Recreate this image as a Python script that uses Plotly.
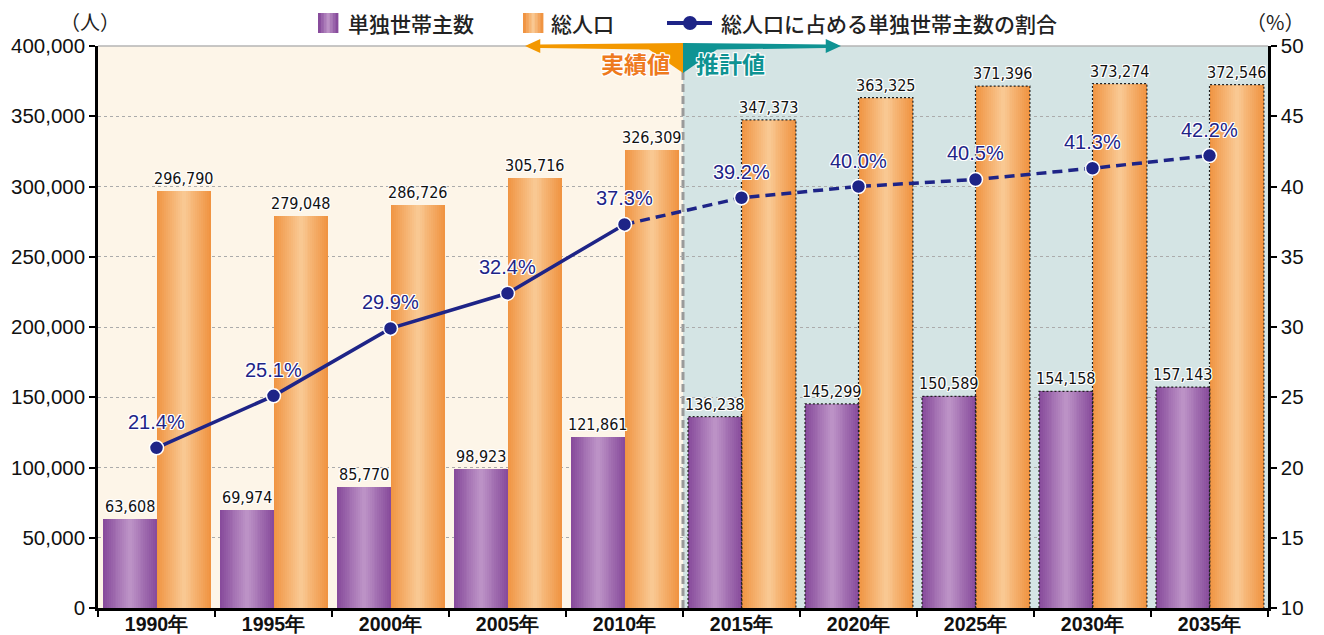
import plotly.graph_objects as go

# ---- data -----------------------------------------------------------------
years = ["1990年", "1995年", "2000年", "2005年", "2010年",
         "2015年", "2020年", "2025年", "2030年", "2035年"]
single_households = [63608, 69974, 85770, 98923, 121861,
                     136238, 145299, 150589, 154158, 157143]
total_population = [296790, 279048, 286726, 305716, 326309,
                    347373, 363325, 371396, 373274, 372546]
single_share = [21.4, 25.1, 29.9, 32.4, 37.3, 39.2, 40.0, 40.5, 41.3, 42.2]
n_actual = 5  # first five points are census results, the rest are projections

# ---- styling --------------------------------------------------------------
W, H = 1324, 635
M_L, M_R, M_T, M_B = 98, 56, 46, 27
PW, PH = W - M_L - M_R, H - M_T - M_B

PURPLE_EDGE = (136, 76, 156)
PURPLE_MID = (188, 146, 198)
ORANGE_EDGE = (240, 148, 66)
ORANGE_MID = (249, 200, 146)
NAVY = "#1E2487"
ORANGE_TXT = "#EE7A1E"
ORANGE_ARROW = "#F39800"
TEAL = "#0F9393"
BG_ACTUAL = "#FDF5E8"
BG_PROJ = "#D4E4E4"
NUM_FONT = "Liberation Sans, Arial, Helvetica, sans-serif"
NARROW_FONT = "Liberation Sans Narrow, DejaVu Sans Condensed, Arial Narrow, sans-serif"
JP_FONT = "Noto Sans CJK JP, sans-serif"
HALO = ("1px 1px 0 #fff, -1px -1px 0 #fff, 1px -1px 0 #fff, -1px 1px 0 #fff, "
        "0 1px 0 #fff, 0 -1px 0 #fff, 1px 0 0 #fff, -1px 0 0 #fff")

PURPLE_OFF, PURPLE_W = -0.457, 0.46
ORANGE_OFF, ORANGE_W = 0.0, 0.465

x = list(range(len(years)))
boundary = n_actual - 0.5


def px_x(p):
    return (p - M_L) / PW


def px_y(p):
    return (H - M_B - p) / PH


def rgb(c):
    return "rgb(%d,%d,%d)" % c


def mix(a, b, t):
    return tuple(round(u + (v - u) * t) for u, v in zip(a, b))


fig = go.Figure()


def gradient_bars(values, offset, width, edge, mid, steps=14):
    """Cylinder-like shading: nested bars getting narrower and lighter."""
    for k in range(steps):
        t = k / (steps - 1)
        w = width * (1 - k / steps)
        off = offset + (width - w) / 2
        fig.add_trace(go.Bar(
            x=x, y=values, offset=off, width=w, yaxis="y",
            marker=dict(color=rgb(mix(edge, mid, t)), line=dict(width=0)),
            showlegend=False, hoverinfo="skip"))


gradient_bars(single_households, PURPLE_OFF, PURPLE_W, PURPLE_EDGE, PURPLE_MID)
gradient_bars(total_population, ORANGE_OFF, ORANGE_W, ORANGE_EDGE, ORANGE_MID)

# dotted outlines around projected bars
ox, oy = [], []
for i in range(n_actual, len(years)):
    for off, w, v in ((PURPLE_OFF, PURPLE_W, single_households[i]),
                      (ORANGE_OFF, ORANGE_W, total_population[i])):
        l, r = i + off, i + off + w
        ox += [l, l, r, r, None]
        oy += [0, v, v, 0, None]
fig.add_trace(go.Scatter(x=ox, y=oy, mode="lines", yaxis="y",
                         line=dict(color="#222", width=1.2, dash="2px,2px"),
                         showlegend=False, hoverinfo="skip"))

# share line: solid for results, dashed for projections
fig.add_trace(go.Scatter(x=x[:n_actual], y=single_share[:n_actual], yaxis="y2",
                         mode="lines", line=dict(color=NAVY, width=3.5),
                         showlegend=False, hoverinfo="skip"))
fig.add_trace(go.Scatter(x=x[n_actual - 1:], y=single_share[n_actual - 1:], yaxis="y2",
                         mode="lines", line=dict(color=NAVY, width=3.5, dash="10px,6px"),
                         showlegend=False, hoverinfo="skip"))
fig.add_trace(go.Scatter(x=x, y=single_share, yaxis="y2", mode="markers",
                         marker=dict(color=NAVY, size=14, line=dict(color="white", width=1.5)),
                         showlegend=False, hoverinfo="skip"))

annotations = []
# value labels above bars
for i in x:
    for off, w, v in ((PURPLE_OFF, PURPLE_W, single_households[i]),
                      (ORANGE_OFF, ORANGE_W, total_population[i])):
        annotations.append(dict(
            x=i + off + w / 2, y=v, xref="x", yref="y", yanchor="bottom",
            yshift=1, showarrow=False, text=f"{v:,}",
            font=dict(family=NARROW_FONT, size=16, color="#111", shadow=HALO)))
# share labels
for i in x:
    annotations.append(dict(
        x=i, y=single_share[i], xref="x", yref="y2", yanchor="middle",
        yshift=26, showarrow=False, text=f"{single_share[i]:.1f}%",
        font=dict(family=NUM_FONT, size=20, color=NAVY, shadow=HALO)))

# period labels
annotations.append(dict(x=boundary, y=px_y(63), xref="x", yref="paper",
                        xanchor="right", yanchor="middle", xshift=-11, showarrow=False,
                        text="実績値", font=dict(family=JP_FONT, size=23, color=ORANGE_TXT,
                                               weight="bold", shadow=HALO)))
annotations.append(dict(x=boundary, y=px_y(63), xref="x", yref="paper",
                        xanchor="left", yanchor="middle", xshift=11, showarrow=False,
                        text="推計値", font=dict(family=JP_FONT, size=23, color=TEAL,
                                               weight="bold", shadow=HALO)))

# unit labels
annotations.append(dict(x=px_x(90), y=px_y(21), xref="paper", yref="paper",
                        xanchor="center", yanchor="middle",
                        showarrow=False, text="（人）",
                        font=dict(family=JP_FONT, size=20, color="#222")))
annotations.append(dict(x=px_x(1275), y=px_y(21), xref="paper", yref="paper",
                        xanchor="center", yanchor="middle",
                        showarrow=False, text="（%）",
                        font=dict(family=JP_FONT, size=20, color="#222")))

shapes = [
    dict(type="rect", xref="x", yref="paper", x0=-0.5, x1=boundary, y0=0, y1=1,
         fillcolor=BG_ACTUAL, line=dict(width=0), layer="below"),
    dict(type="rect", xref="x", yref="paper", x0=boundary, x1=len(years) - 0.5, y0=0, y1=1,
         fillcolor=BG_PROJ, line=dict(width=0), layer="below"),
    dict(type="line", xref="x", yref="paper", x0=boundary, x1=boundary, y0=0, y1=1,
         line=dict(color="#9A9A9A", width=3, dash="8px,4px"), layer="below"),
    dict(type="line", xref="paper", yref="paper", x0=0, x1=1, y0=1, y1=1,
         line=dict(color="#B5B5B5", width=1.5), layer="below"),
]


def arrow_path(direction):
    """Arrow along the top edge running away from the period boundary."""
    s = direction
    b = boundary
    head_tip = b + s * 1.35
    head_base = b + s * 1.22
    wedge = b + s * 0.29
    pts = [(head_tip, px_y(46)), (head_base, px_y(39)), (head_base, px_y(44.5)),
           (b, px_y(43)), (b, px_y(73)), (wedge, px_y(49.5)),
           (head_base, px_y(48)), (head_base, px_y(53))]
    return "M " + " L ".join(f"{a:.4f},{c:.4f}" for a, c in pts) + " Z"


shapes.append(dict(type="path", xref="x", yref="paper", path=arrow_path(-1),
                   fillcolor=ORANGE_ARROW, line=dict(width=0), layer="above"))
shapes.append(dict(type="path", xref="x", yref="paper", path=arrow_path(1),
                   fillcolor=TEAL, line=dict(width=0), layer="above"))

# ---- hand-built legend ----------------------------------------------------
LEG_Y = 23


def swatch(x0, edge, mid, strips=7):
    sw = 20
    for k in range(strips):
        t = 1 - abs(k - (strips - 1) / 2) / ((strips - 1) / 2)
        shapes.append(dict(type="rect", xref="paper", yref="paper",
                           x0=px_x(x0 + k * sw / strips), x1=px_x(x0 + (k + 1) * sw / strips + 0.4),
                           y0=px_y(LEG_Y - 10), y1=px_y(LEG_Y + 10),
                           fillcolor=rgb(mix(edge, mid, t)), line=dict(width=0)))


swatch(318, PURPLE_EDGE, PURPLE_MID)
swatch(523, ORANGE_EDGE, ORANGE_MID)
shapes.append(dict(type="line", xref="paper", yref="paper", x0=px_x(667), x1=px_x(712),
                   y0=px_y(LEG_Y), y1=px_y(LEG_Y), line=dict(color=NAVY, width=4)))
shapes.append(dict(type="circle", xref="paper", yref="paper", xsizemode="pixel",
                   ysizemode="pixel", xanchor=px_x(690), yanchor=px_y(LEG_Y),
                   x0=-7, x1=7, y0=-7, y1=7, fillcolor=NAVY, line=dict(width=0)))

for left, label in ((346, "単独世帯主数"), (549, "総人口"), (719, "総人口に占める単独世帯主数の割合")):
    annotations.append(dict(x=px_x(left), y=px_y(LEG_Y), xref="paper", yref="paper",
                            xanchor="left", yanchor="middle", showarrow=False, text=label,
                            font=dict(family=JP_FONT, size=21, color="#222", weight=500)))

fig.update_layout(
    width=W, height=H,
    margin=dict(l=M_L, r=M_R, t=M_T, b=M_B, pad=0),
    paper_bgcolor="white", plot_bgcolor="white",
    barmode="overlay", bargap=0, showlegend=False,
    shapes=shapes, annotations=annotations,
    xaxis=dict(range=[-0.5, len(years) - 0.5], tickmode="array", tickvals=x, ticktext=years,
               ticks="", showgrid=False, zeroline=False, showline=True,
               linecolor="black", linewidth=2.5, automargin=False, ticklabelstandoff=-3,
               tickfont=dict(family=NUM_FONT, size=19.5, color="#111", weight="bold"),
               minor=dict(tickmode="linear", tick0=-0.5, dtick=1, ticks="outside",
                          ticklen=6, tickwidth=2, tickcolor="black", showgrid=False)),
    yaxis=dict(range=[0, 400000], dtick=50000, tickformat=",", ticks="outside",
               ticklen=6, tickwidth=2, tickcolor="black", showline=True,
               linecolor="black", linewidth=2.5, showgrid=True, gridcolor="#ABABAB",
               griddash="dot", gridwidth=1, zeroline=False, automargin=False,
               tickfont=dict(family=NUM_FONT, size=20.5, color="#111")),
    yaxis2=dict(range=[10, 50], dtick=5, overlaying="y", side="right", ticks="outside",
                ticklen=6, tickwidth=2, tickcolor="black", showline=True,
                linecolor="black", linewidth=2.5, showgrid=False, zeroline=False,
                automargin=False, tickfont=dict(family=NUM_FONT, size=20.5, color="#111")),
)

fig.write_html("out.html")
